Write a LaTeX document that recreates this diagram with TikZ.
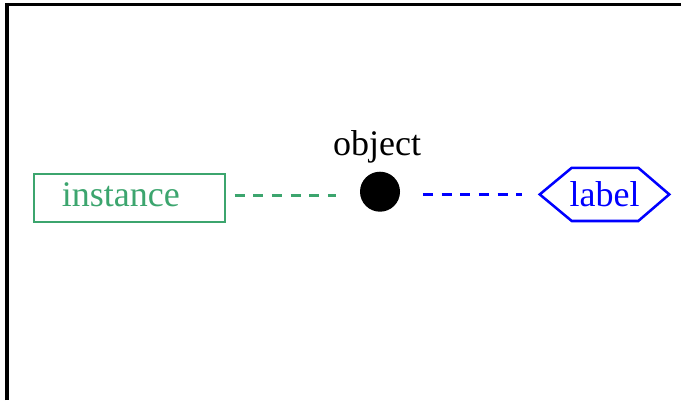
\documentclass[tikz,border=0pt]{standalone}
\usepackage{fontspec}
\setmainfont{Liberation Serif}
\usetikzlibrary{calc}
\definecolor{instgreen}{RGB}{60,165,110}
\begin{document}
\begin{tikzpicture}[x=0.75pt,y=-0.75pt,
  bigtext/.style={font=\fontsize{27}{32}\selectfont, inner sep=0pt},
  instbox/.style={draw=instgreen, line width=1.9pt, minimum width=143.25pt, minimum height=36pt, inner sep=0pt},
  dot/.style={circle, fill=black, minimum size=30pt, inner sep=0pt},
  hexframe/.style={minimum width=96.75pt, minimum height=39.5pt, inner sep=0pt},
  dashline/.style={line width=2pt, dash pattern=on 7.5pt off 6.5pt}
]
\useasboundingbox (0,0) rectangle (681,400);
\draw[line width=2.3pt] (7,400) -- (7,4.5) -- (681,4.5);

\node[instbox] (inst) at (129.5,198) {};
\node[bigtext, text=instgreen, anchor=base west] (insttext) at (61.5,206.7) {instance};

\node[bigtext, anchor=base] (objtext) at (377,155) {object};
\node[dot] (obj) at (380,191.7) {};

\node[hexframe] (hex) at (604.5,194.4) {};
\draw[blue, line width=1.9pt] (hex.west) -- ($(hex.north west)+(32,0)$) -- ($(hex.north east)+(-31,0)$) -- (hex.east) -- ($(hex.south east)+(-31,0)$) -- ($(hex.south west)+(32,0)$) -- cycle;
\node[bigtext, text=blue, anchor=base] (lbl) at (604.5,206.7) {label};

\draw[dashline, instgreen, shorten <=6.2pt, shorten >=18pt] ([yshift=2pt]inst.east) -- ([yshift=2pt]inst.east -| obj.west);
\draw[dashline, blue, shorten <=17pt, shorten >=13.5pt] (obj.east |- hex.west) -- (hex.west);
\end{tikzpicture}
\end{document}
